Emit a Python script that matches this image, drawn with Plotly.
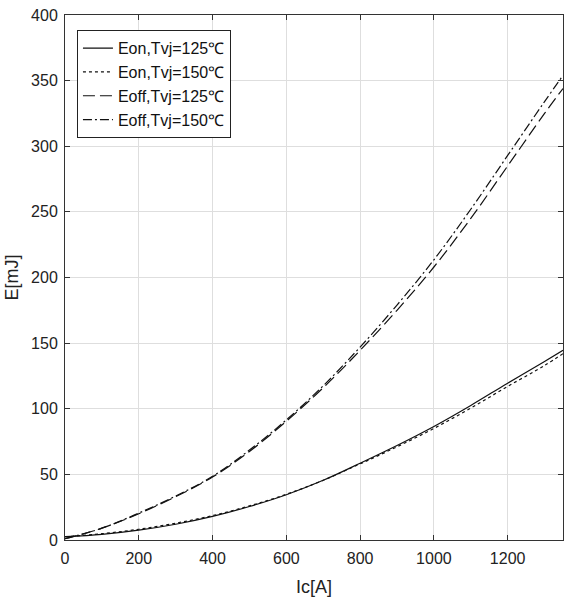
import plotly.graph_objects as go

ic = [0, 100, 200, 300, 400, 500, 600, 700, 800, 900, 1000, 1100, 1200, 1300, 1350]
eon_125 = [2.5, 4.3, 7.5, 12.0, 18.0, 25.5, 34.5, 45.5, 58.5, 72.0, 86.5, 102.5, 119.5, 136.0, 144.5]
eon_150 = [2.5, 4.8, 8.2, 12.8, 18.6, 26.0, 34.8, 45.5, 58.0, 71.0, 85.0, 100.5, 117.0, 133.0, 142.0]
eoff_125 = [1.0, 9.0, 20.0, 33.0, 48.0, 67.5, 90.5, 116.0, 144.5, 175.0, 208.0, 245.0, 285.0, 325.0, 344.0]
eoff_150 = [1.0, 9.0, 20.5, 33.5, 48.5, 68.5, 91.5, 117.5, 147.0, 179.0, 213.5, 252.0, 293.0, 334.0, 354.0]

names = ["Eon,Tvj=125℃", "Eon,Tvj=150℃", "Eoff,Tvj=125℃", "Eoff,Tvj=150℃"]
series = [eon_125, eon_150, eoff_125, eoff_150]
dashes = ["solid", "dot", "12px,5px", "9px,3px,2px,3px"]

FONT = "Liberation Sans, Arial, sans-serif"

fig = go.Figure()
for n, s, d in zip(names, series, dashes):
    fig.add_trace(go.Scatter(x=ic, y=s, name=n, mode="lines", line_shape="spline",
                             line=dict(color="#111111", width=1.2, dash=d)))

axis_common = dict(showline=True, linecolor="#333333", linewidth=1, mirror="allticks",
                   ticks="inside", ticklen=5, tickcolor="#333333", automargin=False,
                   showgrid=True, gridcolor="#dedede", gridwidth=1, zeroline=False,
                   tickfont=dict(family=FONT, size=16, color="#222222"))

fig.update_xaxes(range=[0, 1350], dtick=200, tick0=0, ticklabelstandoff=4,
                 title=dict(text="Ic[A]", font=dict(family=FONT, size=18, color="#222222"), standoff=14),
                 **axis_common)
fig.update_yaxes(range=[0, 400], dtick=50, tick0=0, ticklabelstandoff=3,
                 title=dict(text="E[mJ]", font=dict(family=FONT, size=18, color="#222222"), standoff=7),
                 **axis_common)

fig.update_layout(
    width=564, height=604,
    margin=dict(l=65, r=1, t=15, b=64),
    plot_bgcolor="white", paper_bgcolor="white",
    legend=dict(x=0.024, y=0.971, xanchor="left", yanchor="top",
                bgcolor="white", bordercolor="#222222", borderwidth=1,
                font=dict(family=FONT, size=16, color="#111111"),
                tracegroupgap=0, itemwidth=30),
    showlegend=True,
)

fig.write_html("out.html", config={"displayModeBar": False},
               post_script="document.body.style.margin='0';document.body.style.overflow='hidden';")
